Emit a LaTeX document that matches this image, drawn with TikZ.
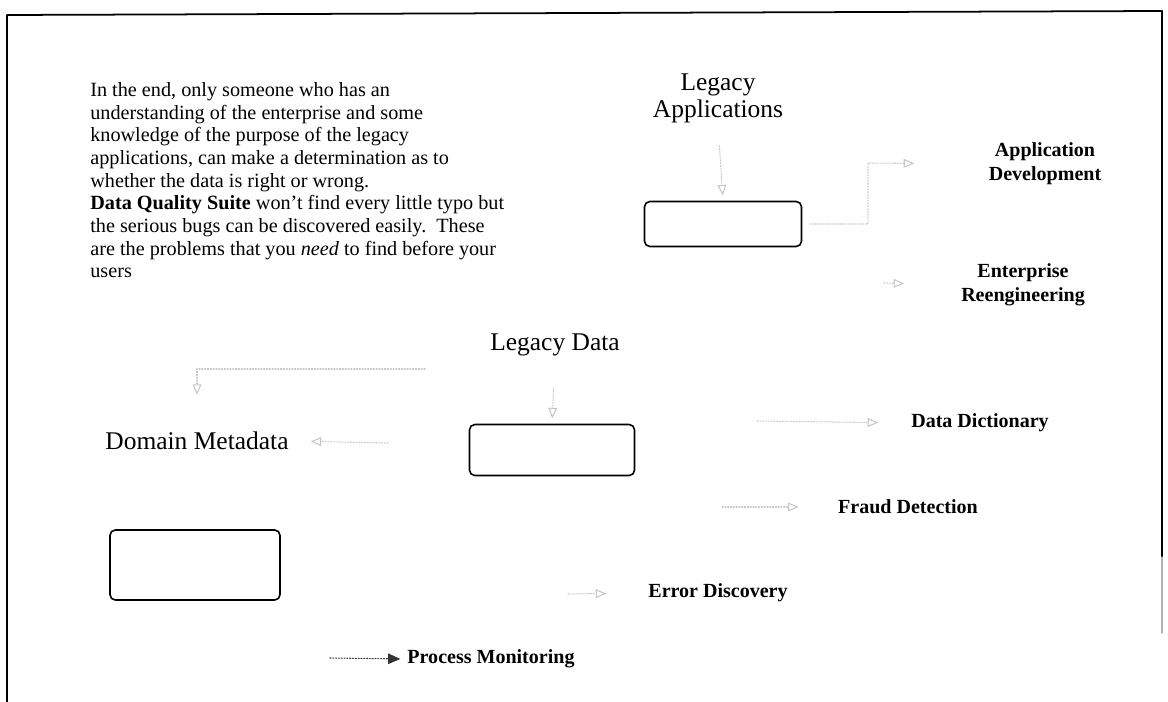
\documentclass[tikz,border=0pt]{standalone}
\usepackage{fontspec}
\setmainfont{Liberation Serif}
\usetikzlibrary{arrows.meta,calc,positioning}

\tikzset{
  bigtag/.style={font=\fontsize{14.5}{15.5}\selectfont, align=center, inner sep=1pt},
  boldtag/.style={font=\fontsize{11.4}{13.6}\selectfont\bfseries, align=center, inner sep=1pt},
  roundbox/.style={draw, line width=0.9pt, rounded corners=3pt},
  conn/.style={densely dotted, gray!45, line width=0.6pt, -{Triangle[length=6pt,width=5pt,open]}},
  darkconn/.style={densely dotted, black!80, line width=0.6pt, -{Triangle[length=7pt,width=6pt]}},
}

\begin{document}
\begin{tikzpicture}[x=0.02cm, y=-0.02cm, line join=round, line cap=round]
    \useasboundingbox (0,0) rectangle (1168,702);

    % frame
    \draw[line width=1pt] (7,702) -- (7,15) -- (1162,11) -- (1162,557);
    \draw[line width=0.6pt, gray!60] (1162,557) -- (1162,633);

    % note
    \node[anchor=north west, inner sep=0pt, align=left,
          font=\fontsize{11.5}{12.9}\selectfont] (note) at (90,82)
        {In the end, only someone who has an\\
         understanding of the enterprise and some\\
         knowledge of the purpose of the legacy\\
         applications, can make a determination as to\\
         whether the data is right or wrong.\\
         \textbf{Data Quality Suite} won’t find every little typo but\\
         the serious bugs can be discovered easily.\ \ These\\
         are the problems that you \textit{need} to find before your\\
         users};

    % main labels
    \node[bigtag] (legapp) at (718,98) {Legacy\\Applications};
    \node[bigtag] (legdata) at (555,345) {Legacy Data};
    \node[bigtag] (dommeta) at (197,441) {Domain Metadata};

    % boxes
    \node[roundbox, minimum width=3.14cm, minimum height=0.9cm] (appbox) at (723,224) {};
    \node[roundbox, minimum width=3.3cm, minimum height=1.02cm] (databox) at (552,450) {};
    \node[roundbox, minimum width=3.4cm, minimum height=1.4cm] (metabox) at (195,565) {};

    % uses
    \foreach \id/\x/\y/\txt in {
        appdev/1045/164/{Application\\Development},
        entre/1023/285/{Enterprise\\Reengineering},
        datadict/980/423/{Data Dictionary},
        fraud/908/507/{Fraud Detection},
        errdisc/718/593/{Error Discovery},
        procmon/491/659/{Process Monitoring}}
    {
        \node[boldtag] (\id) at (\x,\y) {\txt};
    }

    \coordinate (appturn) at (868,163);
    \coordinate (entfeed) at (884,283);
    \coordinate (datasplit) at (425,369);
    \coordinate (metafeed) at (388,443);
    \coordinate (dictfeed) at (757,421);
    \coordinate (fraudfeed) at (722,507);
    \coordinate (errfeed) at (568,594);
    \coordinate (procfeed) at (330,658);

    \draw[conn, shorten <=12pt, shorten >=3pt] (legapp.south) -- (appbox.north);
    \draw[conn, shorten <=4pt, shorten >=1.45cm] (appbox.east) -| (appturn) -- (appdev.west);
    \draw[conn, shorten >=1.1cm] (entfeed) -- (entre.west);
    \draw[conn, shorten >=0.7cm] (datasplit) -| (dommeta.north);
    \draw[conn, shorten >=0.4cm] (metafeed) -- (dommeta.east);
    \draw[conn, shorten <=0.6cm, shorten >=3pt] (legdata.south) -- (databox.north);
    \draw[conn, shorten >=0.62cm] (dictfeed) -- (datadict.west);
    \draw[conn, shorten >=0.75cm] (fraudfeed) -- (fraud.west);
    \draw[conn, shorten >=0.8cm] (errfeed) -- (errdisc.west);
    \draw[darkconn, shorten >=0.1cm] (procfeed) -- (procmon.west);
\end{tikzpicture}
\end{document}
